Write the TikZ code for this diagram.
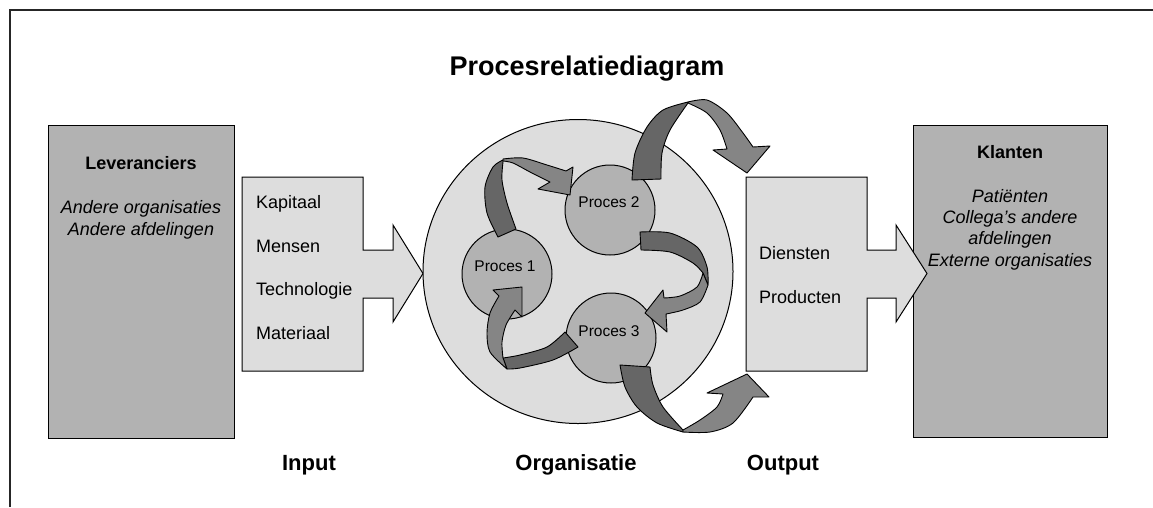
\documentclass[tikz,border=0pt]{standalone}
\usepackage{fontspec}
\setmainfont{Liberation Sans}
\definecolor{boxgray}{HTML}{B2B2B2}
\definecolor{palegray}{HTML}{DDDDDD}
\definecolor{banddark}{HTML}{666666}
\definecolor{bandlight}{HTML}{858585}
\begin{document}
\begin{tikzpicture}[x=1pt,y=-1pt,
  sidebox/.style={draw=black, line width=1pt, fill=boxgray, rectangle, inner sep=0pt, anchor=north west},
  paleshape/.style={draw=black, line width=1pt, fill=palegray},
  procball/.style={draw=black, line width=1pt, fill=boxgray, circle, inner sep=0pt, minimum size=90pt},
  darkband/.style={draw=black, line width=0.9pt, fill=banddark, line join=round},
  lightband/.style={draw=black, line width=0.9pt, fill=bandlight, line join=round},
  txt/.style={inner sep=0pt, font=\fontsize{18}{21.6}\selectfont},
  itxt/.style={inner sep=0pt, font=\fontsize{18}{21.6}\selectfont\itshape, anchor=base},
  btxt/.style={inner sep=0pt, font=\fontsize{18}{21.6}\selectfont\bfseries, anchor=base},
  ptxt/.style={inner sep=0pt, font=\fontsize{15.5}{18}\selectfont, anchor=base},
  lbl/.style={inner sep=0pt, font=\fontsize{22}{26}\selectfont\bfseries, anchor=base},
  frame/.style={draw=black!85, line width=1.8pt}]
\useasboundingbox (0,0) rectangle (1153,507);

% frame
\draw[frame] (10,507) -- (10,10) -- (1153,10);

% title
\node[inner sep=0pt, font=\fontsize{27}{32}\selectfont\bfseries, anchor=base] (title) at (587,75) {Procesrelatiediagram};

% suppliers box
\node[sidebox, minimum width=186pt, minimum height=313pt] (lev) at (48,125) {};
\node[btxt] (levt) at (141,169) {Leveranciers};
\node[itxt] (lev1) at (141,213) {Andere organisaties};
\node[itxt] (lev2) at (141,235) {Andere afdelingen};

% input arrow
\draw[paleshape] (242,177) -- (363,177) -- (363,250) -- (393,250) -- (393,225) -- (423,273.5)
  -- (393,322) -- (393,298) -- (363,298) -- (363,371) -- (242,371) -- cycle;
\node[txt, anchor=base west] (in1) at (256,208) {Kapitaal};
\node[txt, anchor=base west] (in2) at (256,252) {Mensen};
\node[txt, anchor=base west] (in3) at (256,295) {Technologie};
\node[txt, anchor=base west] (in4) at (256,339) {Materiaal};

% organisation
\draw[paleshape] (578,271.5) ellipse [x radius=155pt, y radius=152pt];
\node[procball] (p1) at (507,274) {};
\node[procball] (p2) at (610,210) {};
\node[procball] (p3) at (611,338) {};
\node[ptxt] (p1t) at (505,271) {Proces 1};
\node[ptxt] (p2t) at (609,207) {Proces 2};
\node[ptxt] (p3t) at (609,336) {Proces 3};

% customers box
\node[sidebox, minimum width=194pt, minimum height=312pt] (kla) at (913,125) {};
\node[btxt] (klat) at (1010,158) {Klanten};
\node[itxt] (kl1) at (1010,202) {Patiënten};
\node[itxt] (kl2) at (1010,223) {Collega’s andere};
\node[itxt] (kl3) at (1010,244) {afdelingen};
\node[itxt] (kl4) at (1010,266) {Externe organisaties};

% output arrow
\draw[paleshape] (746,177) -- (867,177) -- (867,250) -- (896,250) -- (896,225) -- (927,273.5)
  -- (896,322) -- (896,298) -- (867,298) -- (867,371) -- (746,371) -- cycle;
\node[txt, anchor=base west] (out1) at (759,259) {Diensten};
\node[txt, anchor=base west] (out2) at (759,303) {Producten};

% curved arrow: Proces 1 -> Proces 2
\filldraw[darkband] plot[smooth] coordinates {(498,237) (487,213) (485,187) (493,167) (503,160)}
  -- plot[smooth] coordinates {(503,162) (502,180) (507,203) (516,229)} -- cycle;
\filldraw[lightband] plot[smooth] coordinates {(503,159) (523,158) (547,165) (566,171)}
  -- (573,167) -- (570,195) -- (538,189) -- (550,182)
  -- plot[smooth] coordinates {(550,182) (530,172) (513,163) (503,161)} -- cycle;

% curved arrow: Proces 2 -> Proces 3
\filldraw[darkband] plot[smooth] coordinates {(640,232) (670,233) (697,247) (707,267) (708,285)}
  -- plot[smooth] coordinates {(703,273) (693,263) (670,252) (641,250)} -- cycle;
\filldraw[lightband] plot[smooth] coordinates {(708,285) (700,302) (683,310) (666,314)}
  -- (667,332) -- (645,313) -- (663,290) -- (664,298)
  -- plot[smooth] coordinates {(664,298) (680,296) (697,287) (703,273)} -- cycle;

% curved arrow: Proces 3 -> Proces 1
\filldraw[darkband] plot[smooth] coordinates {(565,332) (547,347) (520,355) (503,358)}
  -- plot[smooth] coordinates {(507,369) (520,368) (553,360) (578,347)} -- cycle;
\filldraw[lightband] plot[smooth] coordinates {(507,369) (490,352) (487,333) (490,313) (499,296)}
  -- (493,290) -- (522,287) -- (522,317) -- (515,310)
  -- plot[smooth] coordinates {(515,310) (506,325) (502,342) (503,358)} -- cycle;

% curved arrow: Proces 2 -> output (top)
\filldraw[darkband] plot[smooth] coordinates {(632,180) (635,153) (647,127) (663,110) (688,102)}
  -- plot[smooth] coordinates {(688,103) (670,130) (662,153) (661,179)} -- cycle;
\filldraw[lightband] plot[smooth] coordinates {(688,102) (707,100) (727,113) (743,133) (753,147)}
  -- (770,146) -- (747,173) -- (713,150) -- (727,149)
  -- plot[smooth] coordinates {(727,149) (720,130) (707,113) (688,103)} -- cycle;

% curved arrow: Proces 3 -> output (bottom)
\filldraw[darkband] plot[smooth] coordinates {(620,365) (625,387) (637,407) (657,423) (683,432)}
  -- plot[smooth] coordinates {(683,430) (663,407) (653,385) (650,367)} -- cycle;
\filldraw[lightband] plot[smooth] coordinates {(683,432) (710,432) (733,423) (753,397)}
  -- (769,397) -- (747,374) -- (707,393) -- (723,394)
  -- plot[smooth] coordinates {(723,394) (717,407) (700,420) (683,430)} -- cycle;

% bottom labels
\node[lbl] (linput) at (309,470) {Input};
\node[lbl] (lorg) at (576,470) {Organisatie};
\node[lbl] (lout) at (783,470) {Output};
\end{tikzpicture}
\end{document}
